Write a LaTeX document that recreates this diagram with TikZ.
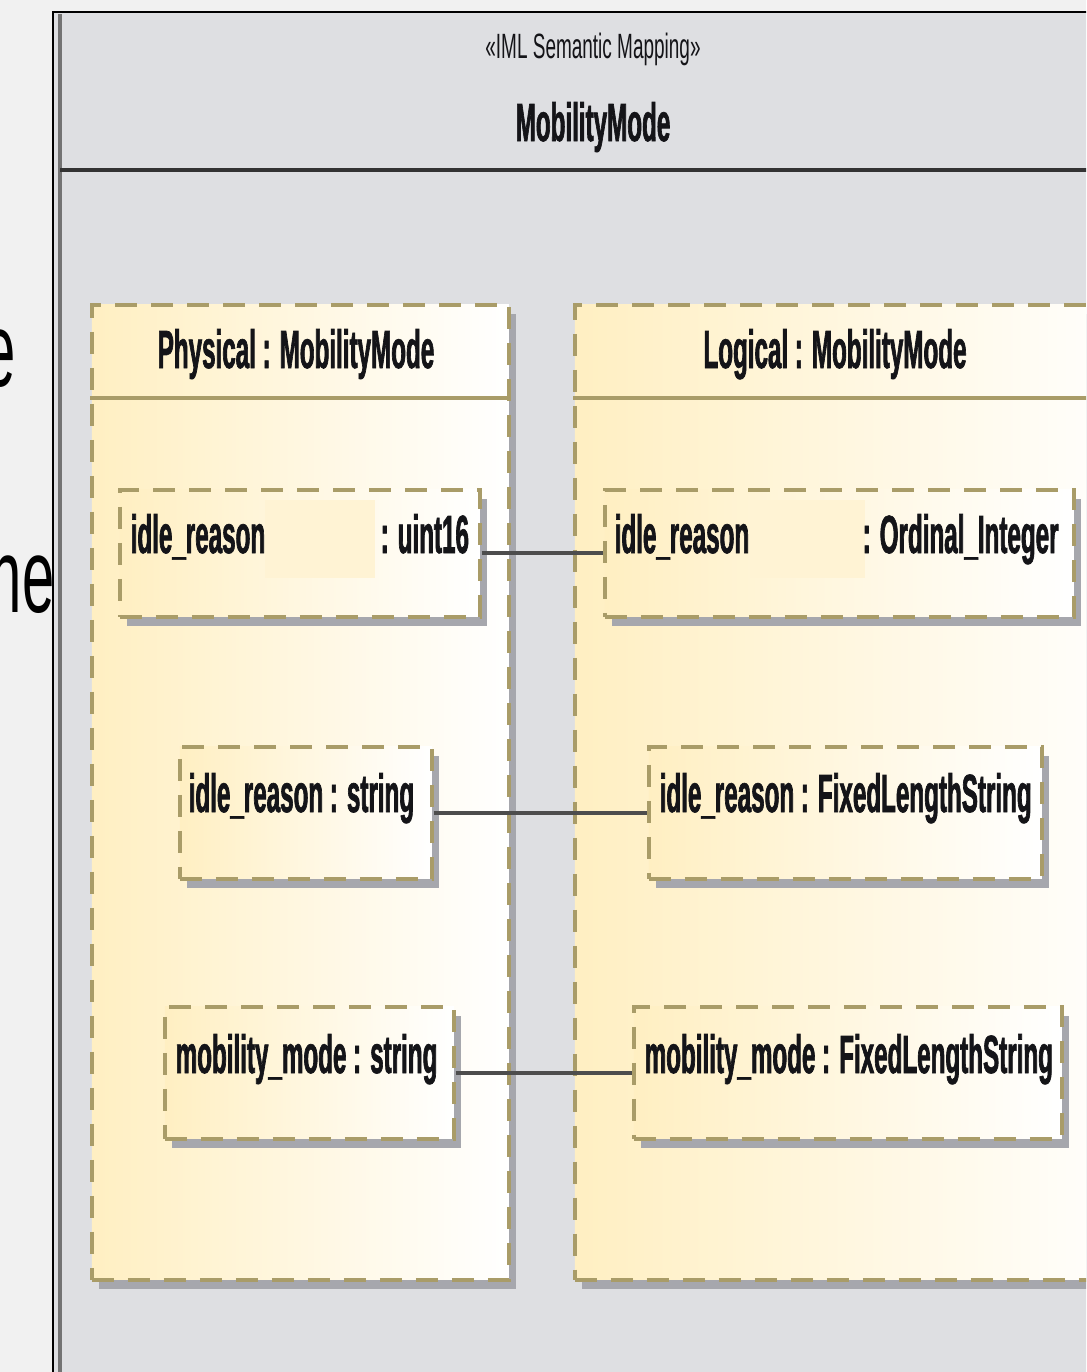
\documentclass[tikz,border=0pt]{standalone}
\usepackage{fontspec}
\setmainfont{Liberation Sans}
\newfontfamily\umlfont[FakeStretch=0.45,FakeBold=1.2]{Liberation Sans}
\newfontfamily\stereofont[FakeStretch=0.54]{Liberation Sans}
\newfontfamily\slidefont[FakeStretch=0.55]{Liberation Sans}
\usetikzlibrary{shadows}
\definecolor{outerbg}{HTML}{F1F1F1}
\definecolor{framegray}{HTML}{DEDFE2}
\definecolor{partyellow}{HTML}{FFEFC2}
\definecolor{umlolive}{HTML}{A99C68}
\definecolor{shadowgray}{HTML}{A6A7AD}
\definecolor{linegray}{HTML}{4D4D4D}
\definecolor{blankyellow}{HTML}{FFF3D4}
\definecolor{textdark}{HTML}{141418}
\begin{document}
\begin{tikzpicture}[x=0.1mm,y=-0.1mm,
  part/.style={draw=umlolive, line width=1pt, dash pattern=on 2.2mm off 1.4mm,
    left color=partyellow, right color=white, anchor=north west, inner sep=0pt,
    drop shadow={shadow xshift=0.7mm, shadow yshift=-0.9mm, fill=shadowgray, opacity=1}},
  lbl/.style={font={\umlfont\bfseries\fontsize{15.3}{18}\selectfont}, text=textdark, inner sep=0pt, anchor=base west},
  stereo/.style={font={\stereofont\fontsize{10}{12}\selectfont}, text=textdark, inner sep=0pt, anchor=base},
  frag/.style={font={\slidefont\fontsize{30}{36}\selectfont}, inner sep=0pt, anchor=base east},
  link/.style={draw=linegray, line width=1.1pt},
  blank/.style={fill=blankyellow}]
  \useasboundingbox (0,0) rectangle (1086,1372);
  \clip (0,0) rectangle (1086,1372);
  \fill[outerbg] (0,0) rectangle (1086,1372);
  % cut-off words of the slide behind
  \begin{scope}
    \clip (0,0) rectangle (52,1372);
    \node[frag] (fragA) at (16,386) {e};
    \node[frag] (fragB) at (55,612) {ne};
  \end{scope}
  % frame
  \fill[framegray] (53,12) rectangle (1100,1380);
  \draw[black, line width=0.6pt] (53,1380) -- (53,12) -- (1100,12);
  \draw[black!55, line width=1pt] (60,14) -- (60,1380);
  \draw[black!80, line width=1.3pt] (60,170) -- (1100,170);
  \node[stereo] (stereo) at (593,58) {«IML Semantic Mapping»};
  \node[lbl, anchor=base] (title) at (593,141) {MobilityMode};
  % parts
  \node[part, minimum width=41.7mm, minimum height=97.5mm] (phys) at (90,303) {};
  \node[part, minimum width=56mm, minimum height=97.5mm] (logic) at (573,303) {};
  \draw[umlolive, line width=1pt] ([yshift=-9.5mm]phys.north west) -- ([yshift=-9.5mm]phys.north east);
  \draw[umlolive, line width=1pt] ([yshift=-9.5mm]logic.north west) -- ([yshift=-9.5mm]logic.north east);
  \node[lbl, anchor=base] (physname) at (296,368) {Physical : MobilityMode};
  \node[lbl, anchor=base] (logicname) at (835,368) {Logical : MobilityMode};
  % properties
  \node[part, minimum width=36mm, minimum height=12.7mm] (p1) at (118,488) {};
  \node[part, minimum width=46.9mm, minimum height=12.7mm] (l1) at (603,488) {};
  \node[part, minimum width=25.2mm, minimum height=13.2mm] (p2) at (178,745) {};
  \node[part, minimum width=39.3mm, minimum height=13.2mm] (l2) at (647,745) {};
  \node[part, minimum width=28.9mm, minimum height=13.2mm] (p3) at (163,1005) {};
  \node[part, minimum width=42.8mm, minimum height=13.2mm] (l3) at (632,1005) {};
  \fill[blank] ([shift={(147,12)}]p1.north west) rectangle ++(110,78);
  \fill[blank] ([shift={(147,12)}]l1.north west) rectangle ++(115,78);
  \node[lbl] (p1a) at ([shift={(12,65)}]p1.north west) {idle\_reason};
  \node[lbl] (p1b) at ([shift={(262,65)}]p1.north west) {: uint16};
  \node[lbl] (l1a) at ([shift={(11,65)}]l1.north west) {idle\_reason};
  \node[lbl] (l1b) at ([shift={(259,65)}]l1.north west) {: Ordinal\_Integer};
  \node[lbl] (p2a) at ([shift={(10,67)}]p2.north west) {idle\_reason : string};
  \node[lbl] (l2a) at ([shift={(12,67)}]l2.north west) {idle\_reason : FixedLengthString};
  \node[lbl] (p3a) at ([shift={(12,68)}]p3.north west) {mobility\_mode : string};
  \node[lbl] (l3a) at ([shift={(12,68)}]l3.north west) {mobility\_mode : FixedLengthString};
  % mappings
  \draw[link] (p1) -- (l1);
  \draw[link] (p2) -- (l2);
  \draw[link] (p3) -- (l3);
\end{tikzpicture}
\end{document}
